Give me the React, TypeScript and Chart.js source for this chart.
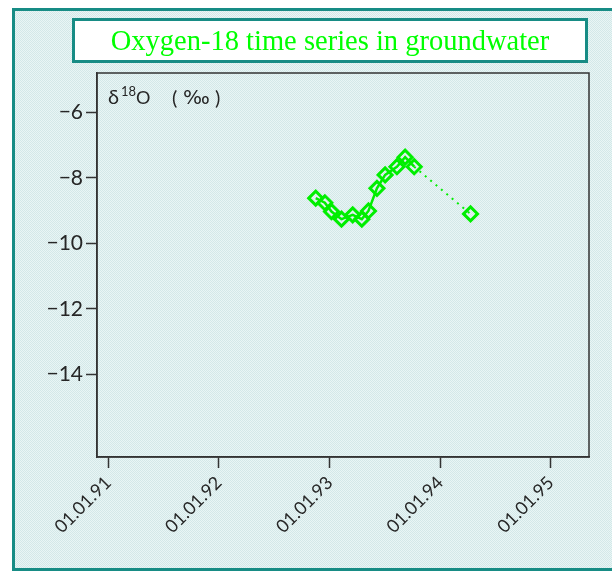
import { useEffect, useRef } from 'react';
import { Chart, registerables } from 'chart.js';

Chart.register(...registerables);

// Sampling dates and measured δ18O values (‰)
const sampleDates = [
  '1992-11-16', '1992-12-16', '1993-01-07', '1993-02-09', '1993-03-18',
  '1993-04-17', '1993-05-09', '1993-06-06', '1993-07-03', '1993-08-11',
  '1993-09-07', '1993-10-07', '1994-04-11',
];
const delta18O = [
  -8.62, -8.76, -9.03, -9.26, -9.13,
  -9.26, -9.01, -8.32, -7.91, -7.66,
  -7.37, -7.66, -9.10,
];

// Axis ticks
const yearTickDates = ['1991-01-01', '1992-01-01', '1993-01-01', '1994-01-01', '1995-01-01'];
const yearTickLabels = ['01.01.91', '01.01.92', '01.01.93', '01.01.94', '01.01.95'];
const valueTicks = [-14, -12, -10, -8, -6];
const valueTickLabels = ['\u221214', '\u221212', '\u221210', '\u22128', '\u22126'];

const xRange = ['1990-11-25', '1995-05-07'];
const yRange = [-16.52, -4.8];

const TITLE = 'Oxygen-18 time series in groundwater';
const GREEN = '#00ee00';
const TEAL = '#178c85';
const INK = '#262626';
const LABEL_FONT = 'Lato, "DejaVu Sans", sans-serif';

const EPOCH = Date.UTC(1991, 0, 1);
const toDay = (s: string) => (Date.parse(s + 'T00:00:00Z') - EPOCH) / 86400000;

function makePattern(ctx: CanvasRenderingContext2D) {
  const c = document.createElement('canvas');
  c.width = 2;
  c.height = 2;
  const p = c.getContext('2d')!;
  p.fillStyle = '#e9f5f5';
  p.fillRect(0, 0, 2, 2);
  p.fillStyle = '#d3e8e8';
  p.fillRect(0, 0, 1, 1);
  p.fillRect(1, 1, 1, 1);
  return ctx.createPattern(c, 'repeat')!;
}

const backdrop = {
  id: 'backdrop',
  beforeDraw(chart: Chart) {
    const { ctx, width, height } = chart;
    ctx.save();
    ctx.fillStyle = '#ffffff';
    ctx.fillRect(0, 0, width, height);
    // textured panel with teal frame
    ctx.fillStyle = makePattern(ctx);
    ctx.fillRect(12, 8, width, 562);
    ctx.strokeStyle = TEAL;
    ctx.lineWidth = 3;
    ctx.strokeRect(13.5, 9.5, width + 10, 560);
    // title box
    ctx.fillStyle = '#ffffff';
    ctx.fillRect(73.5, 19.5, 513, 42);
    ctx.strokeRect(73.5, 19.5, 513, 42);
    ctx.fillStyle = '#00ff00';
    ctx.font = '28.5px "Liberation Serif", "Times New Roman", serif';
    ctx.textAlign = 'center';
    ctx.textBaseline = 'alphabetic';
    ctx.fillText(TITLE, 330, 50);
    ctx.restore();
  },
  afterDraw(chart: Chart) {
    const { ctx, chartArea } = chart;
    const { left, top, right, bottom } = chartArea;
    ctx.save();
    ctx.strokeStyle = '#333333';
    ctx.lineWidth = 1.5;
    ctx.strokeRect(left, top, right - left, bottom - top);
    // axis caption inside the plot
    ctx.fillStyle = INK;
    ctx.textBaseline = 'alphabetic';
    ctx.textAlign = 'left';
    const base = top + 31;
    ctx.font = `20px ${LABEL_FONT}`;
    ctx.fillText('δ', left + 11, base);
    ctx.font = `13px ${LABEL_FONT}`;
    ctx.fillText('18', left + 24, base - 8);
    ctx.font = `18px ${LABEL_FONT}`;
    ctx.fillText('O', left + 39, base);
    ctx.font = `20px ${LABEL_FONT}`;
    ctx.fillText('(', left + 75, base + 1);
    ctx.font = `20px "DejaVu Sans", sans-serif`;
    ctx.fillText('‰', left + 86, base);
    ctx.font = `20px ${LABEL_FONT}`;
    ctx.fillText(')', left + 118, base + 1);
    ctx.restore();
  },
};

export default function App() {
  const canvasRef = useRef<HTMLCanvasElement | null>(null);

  useEffect(() => {
    const canvas = canvasRef.current;
    if (!canvas) return;
    const points = sampleDates.map((d, i) => ({ x: toDay(d), y: delta18O[i] }));
    const lastSeg = points.length - 1;
    const yearTicks = yearTickDates.map(toDay);

    const chart = new Chart(canvas, {
      type: 'line',
      data: {
        datasets: [
          {
            data: points,
            borderColor: GREEN,
            borderWidth: 2.5,
            pointStyle: 'rectRot',
            pointRadius: 7,
            pointBorderWidth: 3,
            pointBorderColor: GREEN,
            pointBackgroundColor: 'rgba(0,0,0,0)',
            tension: 0,
            segment: {
              borderDash: (ctx: any) => (ctx.p1DataIndex === lastSeg ? [2, 5] : undefined),
              borderWidth: (ctx: any) => (ctx.p1DataIndex === lastSeg ? 2 : undefined),
            },
          },
        ],
      },
      options: {
        animation: false,
        responsive: false,
        devicePixelRatio: 1,
        layout: { padding: { top: 73, right: 23, left: 0, bottom: 0 } },
        plugins: {
          legend: { display: false },
          title: { display: false },
          tooltip: { enabled: false },
        },
        scales: {
          x: {
            type: 'linear',
            min: toDay(xRange[0]),
            max: toDay(xRange[1]),
            afterBuildTicks: (scale: any) => {
              scale.ticks = yearTicks.map((v) => ({ value: v }));
            },
            afterFit: (scale: any) => {
              scale.height = 116;
            },
            grid: {
              drawOnChartArea: false,
              drawTicks: true,
              tickLength: 11,
              tickColor: '#333333',
              tickWidth: 1.5,
            },
            border: { display: true, color: '#333333', width: 1.5 },
            ticks: {
              autoSkip: false,
              minRotation: 45,
              maxRotation: 45,
              padding: 4,
              color: INK,
              font: { family: LABEL_FONT, size: 18 },
              callback: (_v: any, i: number) => yearTickLabels[i],
            },
          },
          y: {
            type: 'linear',
            min: yRange[0],
            max: yRange[1],
            afterBuildTicks: (scale: any) => {
              scale.ticks = valueTicks.map((v) => ({ value: v }));
            },
            afterFit: (scale: any) => {
              scale.width = 97;
            },
            grid: {
              drawOnChartArea: false,
              drawTicks: true,
              tickLength: 11,
              tickColor: '#333333',
              tickWidth: 1.5,
            },
            border: { display: true, color: '#333333', width: 1.5 },
            ticks: {
              autoSkip: false,
              padding: 3,
              color: INK,
              font: { family: LABEL_FONT, size: 21 },
              callback: (_v: any, i: number) => valueTickLabels[i],
            },
          },
        },
      },
      plugins: [backdrop],
    } as any);

    return () => chart.destroy();
  }, []);

  return (
    <div style={{ position: 'absolute', left: 0, top: 0, width: 612, height: 573 }}>
      <canvas ref={canvasRef} width={612} height={573} style={{ display: 'block' }} />
    </div>
  );
}
